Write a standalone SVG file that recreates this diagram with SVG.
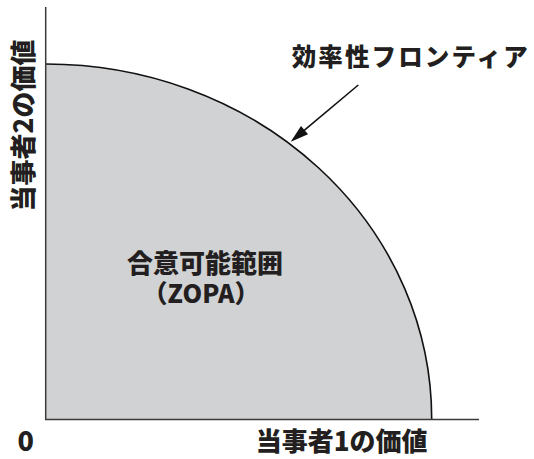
<svg xmlns="http://www.w3.org/2000/svg" width="534" height="459" viewBox="0 0 534 459">
<style>
.t{font-family:"Noto Sans CJK JP","Noto Sans",sans-serif;font-weight:900;fill:#231f20}
.ax{stroke:#3a3a3a;stroke-width:1.5;fill:none}
</style>
<defs>
<marker id="ah" markerUnits="userSpaceOnUse" markerWidth="20" markerHeight="12" refX="0" refY="5.5" orient="auto" overflow="visible">
<path d="M-2,0 L16,5.5 L-2,11 Z" fill="#111"/>
</marker>
</defs>
<rect width="534" height="459" fill="#fff"/>
<g id="region">
<path d="M46,64 A385.7,355 0 0 1 431.7,419 L46,419 Z" fill="#d1d2d4"/>
</g>
<g id="frontier">
<path d="M46,64 A385.7,355 0 0 1 431.7,419" fill="none" stroke="#111" stroke-width="1.6"/>
</g>
<g id="axes">
<path class="ax" d="M45.7,7 V419.5 H479"/>
</g>
<g id="connectors">
<line x1="358.3" y1="85" x2="303" y2="131.4" stroke="#111" stroke-width="1.6" marker-end="url(#ah)"/>
</g>
<g id="label-frontier">
<text class="t" x="291.7" y="66" font-size="24.5" textLength="236" lengthAdjust="spacing">効率性フロンティア</text>
</g>
<g id="label-zopa">
<text class="t" x="205" y="273" font-size="26" text-anchor="middle">合意可能範囲</text>
<text class="t" x="201" y="303" font-size="25" text-anchor="middle">（ZOPA）</text>
</g>
<g id="label-origin">
<text class="t" x="17.5" y="451" font-size="27">0</text>
</g>
<g id="label-x">
<text class="t" x="341.7" y="451" font-size="26" text-anchor="middle">当事者1の価値</text>
</g>
<g id="label-y">
<text class="t" transform="translate(33,125.5) rotate(-90)" font-size="26" text-anchor="middle">当事者2の価値</text>
</g>
</svg>
